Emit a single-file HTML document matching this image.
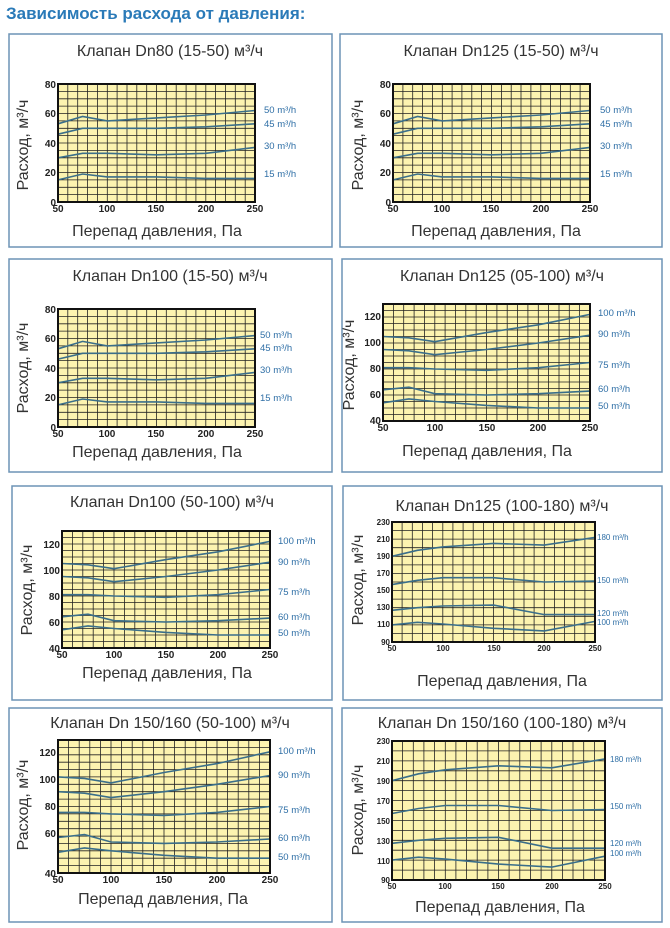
<!DOCTYPE html>
<html><head><meta charset="utf-8"><style>
body{margin:0;background:#fff;width:670px;height:928px;overflow:hidden}
svg{display:block}
.h{font:bold 17px "Liberation Sans",sans-serif;fill:#2a7ab8}
.t{font:16px "Liberation Sans","DejaVu Sans",sans-serif;fill:#333;text-anchor:middle}
.k{font:bold 10px "Liberation Sans",sans-serif;fill:#222}
.ky{text-anchor:end}
.kx{text-anchor:middle}
.l{font:9.5px "Liberation Sans",sans-serif;fill:#2f6fa6}
.s{font-size:8px}
</style></head><body>
<svg id="s" width="670" height="928" xmlns="http://www.w3.org/2000/svg">
<text class="h" x="6" y="19">Зависимость расхода от давления:</text>
<g fill="none" stroke="#6d93b5" stroke-width="1.5">
<rect x="9" y="34" width="323" height="213"/><rect x="340" y="34" width="322" height="213"/>
<rect x="9" y="259" width="323" height="213"/><rect x="342" y="259" width="320" height="213"/>
<rect x="12" y="486" width="320" height="214"/><rect x="343" y="486" width="319" height="214"/>
<rect x="9" y="708" width="323" height="214"/><rect x="342" y="708" width="320" height="214"/>
</g>
<g id="plots"></g>
<text class="t" x="170" y="56">Клапан Dn80 (15-50) м³/ч</text>
<text class="t" x="501" y="56">Клапан Dn125 (15-50) м³/ч</text>
<text class="t" x="170" y="281">Клапан Dn100 (15-50) м³/ч</text>
<text class="t" x="502" y="281">Клапан Dn125 (05-100) м³/ч</text>
<text class="t" x="172" y="507">Клапан Dn100 (50-100) м³/ч</text>
<text class="t" x="502" y="511">Клапан Dn125 (100-180) м³/ч</text>
<text class="t" x="170" y="728">Клапан Dn 150/160 (50-100) м³/ч</text>
<text class="t" x="502" y="728">Клапан Dn 150/160 (100-180) м³/ч</text>
<text class="t" x="157" y="236">Перепад давления, Па</text>
<text class="t" x="496" y="236">Перепад давления, Па</text>
<text class="t" x="157" y="457">Перепад давления, Па</text>
<text class="t" x="487" y="456">Перепад давления, Па</text>
<text class="t" x="167" y="678">Перепад давления, Па</text>
<text class="t" x="502" y="686">Перепад давления, Па</text>
<text class="t" x="163" y="904">Перепад давления, Па</text>
<text class="t" x="500" y="912">Перепад давления, Па</text>
<text class="t" transform="translate(28,145) rotate(-90)">Расход, м³/ч</text>
<text class="t" transform="translate(363,145) rotate(-90)">Расход, м³/ч</text>
<text class="t" transform="translate(28,368) rotate(-90)">Расход, м³/ч</text>
<text class="t" transform="translate(354,365) rotate(-90)">Расход, м³/ч</text>
<text class="t" transform="translate(32,590) rotate(-90)">Расход, м³/ч</text>
<text class="t" transform="translate(363,580) rotate(-90)">Расход, м³/ч</text>
<text class="t" transform="translate(28,805) rotate(-90)">Расход, м³/ч</text>
<text class="t" transform="translate(363,810) rotate(-90)">Расход, м³/ч</text>
<g class="l">
<text x="264" y="113">50 m³/h</text><text x="264" y="127">45 m³/h</text><text x="264" y="149">30 m³/h</text><text x="264" y="177">15 m³/h</text>
<text x="600" y="113">50 m³/h</text><text x="600" y="127">45 m³/h</text><text x="600" y="149">30 m³/h</text><text x="600" y="177">15 m³/h</text>
<text x="260" y="338">50 m³/h</text><text x="260" y="351">45 m³/h</text><text x="260" y="373">30 m³/h</text><text x="260" y="401">15 m³/h</text>
<text x="598" y="316">100 m³/h</text><text x="598" y="337">90 m³/h</text><text x="598" y="368">75 m³/h</text><text x="598" y="392">60 m³/h</text><text x="598" y="409">50 m³/h</text>
<text x="278" y="544">100 m³/h</text><text x="278" y="565">90 m³/h</text><text x="278" y="595">75 m³/h</text><text x="278" y="620">60 m³/h</text><text x="278" y="636">50 m³/h</text>
<text class="s" x="597" y="540">180 m³/h</text><text class="s" x="597" y="583">150 m³/h</text><text class="s" x="597" y="616">120 m³/h</text><text class="s" x="597" y="625">100 m³/h</text>
<text x="278" y="754">100 m³/h</text><text x="278" y="778">90 m³/h</text><text x="278" y="813">75 m³/h</text><text x="278" y="841">60 m³/h</text><text x="278" y="860">50 m³/h</text>
<text class="s" x="610" y="762">180 m³/h</text><text class="s" x="610" y="809">150 m³/h</text><text class="s" x="610" y="846">120 m³/h</text><text class="s" x="610" y="856">100 m³/h</text>
</g>
<g class="k">
<g class="ky"><text x="56" y="88">80</text><text x="56" y="117">60</text><text x="56" y="147">40</text><text x="56" y="176">20</text><text x="56" y="206">0</text></g>
<g class="kx"><text x="58" y="212">50</text><text x="107" y="212">100</text><text x="156" y="212">150</text><text x="206" y="212">200</text><text x="255" y="212">250</text></g>
<g class="ky"><text x="391" y="88">80</text><text x="391" y="117">60</text><text x="391" y="147">40</text><text x="391" y="176">20</text><text x="391" y="206">0</text></g>
<g class="kx"><text x="393" y="212">50</text><text x="442" y="212">100</text><text x="491" y="212">150</text><text x="541" y="212">200</text><text x="590" y="212">250</text></g>
<g class="ky"><text x="56" y="313">80</text><text x="56" y="342">60</text><text x="56" y="372">40</text><text x="56" y="401">20</text><text x="56" y="431">0</text></g>
<g class="kx"><text x="58" y="437">50</text><text x="107" y="437">100</text><text x="156" y="437">150</text><text x="206" y="437">200</text><text x="255" y="437">250</text></g>
<g class="ky"><text x="381" y="320">120</text><text x="381" y="346">100</text><text x="381" y="372">80</text><text x="381" y="398">60</text><text x="381" y="424">40</text></g>
<g class="kx"><text x="383" y="431">50</text><text x="435" y="431">100</text><text x="487" y="431">150</text><text x="538" y="431">200</text><text x="590" y="431">250</text></g>
<g class="ky"><text x="60" y="548">120</text><text x="60" y="574">100</text><text x="60" y="600">80</text><text x="60" y="626">60</text><text x="60" y="652">40</text></g>
<g class="kx"><text x="62" y="658">50</text><text x="114" y="658">100</text><text x="166" y="658">150</text><text x="218" y="658">200</text><text x="270" y="658">250</text></g>
<g class="ky s"><text x="390" y="525">230</text><text x="390" y="542">210</text><text x="390" y="559">190</text><text x="390" y="576">170</text><text x="390" y="593">150</text><text x="390" y="610">130</text><text x="390" y="627">110</text><text x="390" y="645">90</text></g>
<g class="kx s"><text x="392" y="651">50</text><text x="443" y="651">100</text><text x="494" y="651">150</text><text x="544" y="651">200</text><text x="595" y="651">250</text></g>
<g class="ky"><text x="56" y="756">120</text><text x="56" y="783">100</text><text x="56" y="810">80</text><text x="56" y="837">60</text><text x="56" y="877">40</text></g>
<g class="kx"><text x="58" y="883">50</text><text x="111" y="883">100</text><text x="164" y="883">150</text><text x="217" y="883">200</text><text x="270" y="883">250</text></g>
<g class="ky s"><text x="390" y="744">230</text><text x="390" y="764">210</text><text x="390" y="784">190</text><text x="390" y="804">170</text><text x="390" y="824">150</text><text x="390" y="844">130</text><text x="390" y="864">110</text><text x="390" y="883">90</text></g>
<g class="kx s"><text x="392" y="889">50</text><text x="445" y="889">100</text><text x="498" y="889">150</text><text x="552" y="889">200</text><text x="605" y="889">250</text></g>
</g>
</svg>
<script>
var A=[[53,58,55,57,59,62],[46,50,50,50,51,53],[30,33,33,32,33,37],[15,19,17,17,16,16]];
var B=[[105,104,101,108,114,122],[95,94,91,95,100,106],[81,81,80,79,81,85],[64,66,61,60,61,63],[54,57,55,52,50,50]];
var C=[[190,197,201,205,203,212],[157,162,165,165,160,161],[127,130,132,133,122,122],[110,113,111,106,103,114]];
var X=[50,75,100,150,200,250];
var P=[[58,84,255,202,0,80,16,A],[393,84,590,202,0,80,16,A],[58,309,255,427,0,80,16,A],[383,304,590,421,40,130,18,B],
[62,531,270,648,40,130,18,B],[392,522,595,642,90,230,14,C],[58,740,270,873,40,130,18,B],[392,741,605,880,90,230,14,C]];
var h='';
P.forEach(function(p){var x0=p[0],y0=p[1],x1=p[2],y1=p[3],lo=p[4],hi=p[5],n=p[6],d=p[7];
h+='<rect x="'+x0+'" y="'+y0+'" width="'+(x1-x0)+'" height="'+(y1-y0)+'" fill="#fcf3b0"/>';
var g='';for(var i=1;i<20;i++){var x=x0+(x1-x0)*i/20;g+='M'+x.toFixed(1)+' '+y0+'V'+y1;}
for(var j=1;j<n;j++){var y=y0+(y1-y0)*j/n;g+='M'+x0+' '+y.toFixed(1)+'H'+x1;}
h+='<path d="'+g+'" stroke="#222" stroke-width="0.8" fill="none"/>';
d.forEach(function(c){var s='';c.forEach(function(v,k){var x=x0+(x1-x0)*(X[k]-50)/200,y=y1-(y1-y0)*(v-lo)/(hi-lo);s+=(k?'L':'M')+x.toFixed(1)+' '+y.toFixed(1);});
h+='<path d="'+s+'" stroke="#3a6e8a" stroke-width="1.6" fill="none"/>';});
h+='<rect x="'+x0+'" y="'+y0+'" width="'+(x1-x0)+'" height="'+(y1-y0)+'" fill="none" stroke="#111" stroke-width="2"/>';});
document.getElementById('plots').innerHTML=h;
</script>
</body></html>
